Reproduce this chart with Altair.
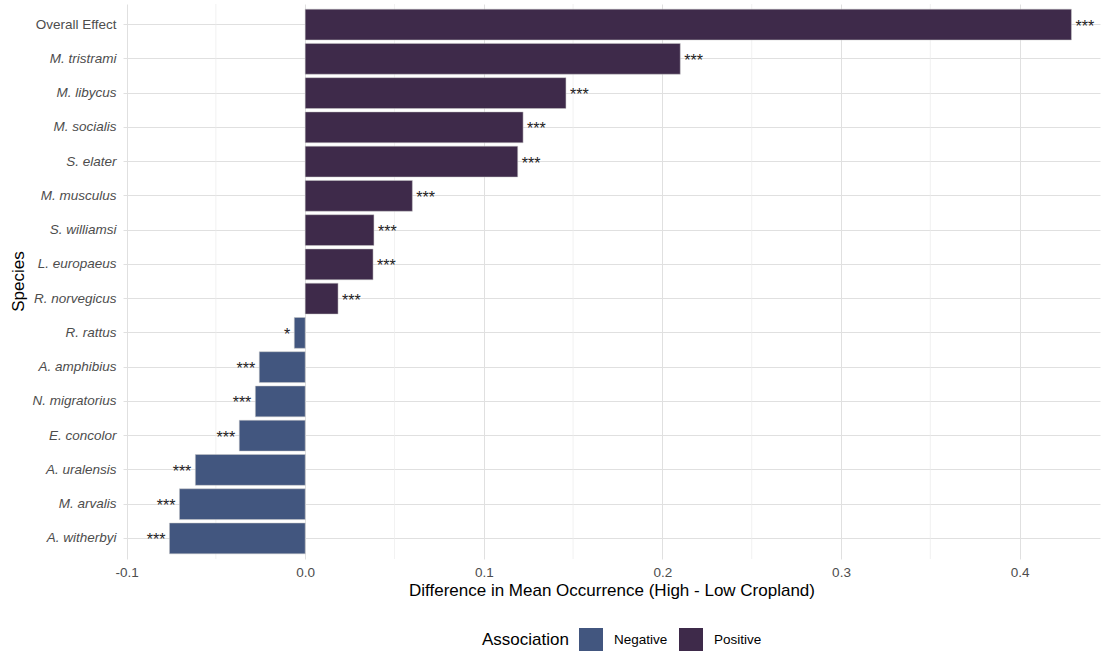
import altair as alt
import pandas as pd

species = ["Overall Effect", "M. tristrami", "M. libycus", "M. socialis", "S. elater",
           "M. musculus", "S. williamsi", "L. europaeus", "R. norvegicus", "R. rattus",
           "A. amphibius", "N. migratorius", "E. concolor", "A. uralensis", "M. arvalis",
           "A. witherbyi"]
diff = [0.429, 0.210, 0.146, 0.122, 0.119, 0.060, 0.0385, 0.038, 0.0184, -0.0061,
        -0.0257, -0.0279, -0.0369, -0.0615, -0.0704, -0.076]
sig = ["***", "***", "***", "***", "***", "***", "***", "***", "***", "*",
       "***", "***", "***", "***", "***", "***"]
major_ticks = [-0.1, 0.0, 0.1, 0.2, 0.3, 0.4]
minor_ticks = [-0.05, 0.05, 0.15, 0.25, 0.35]

df = pd.DataFrame({"Species": species, "diff": diff, "sig": sig})
df["Association"] = ["Positive" if v > 0 else "Negative" for v in diff]
minor_df = pd.DataFrame({"v": minor_ticks})

FONT = "Liberation Sans"
LBL = 13.5
TTL = 17
STAR = 16
xscale = alt.Scale(domain=[-0.102, 0.445], nice=False, zero=False)
yscale = alt.Scale(domain=species, paddingInner=0.1, paddingOuter=0.15)

minor = alt.Chart(minor_df).mark_rule(color="#ebebeb", strokeWidth=0.7).encode(
    x=alt.X("v:Q", scale=xscale)
)

bars = alt.Chart(df).mark_bar(stroke="#c8c8c8", strokeWidth=0.5).encode(
    x=alt.X("diff:Q", scale=xscale,
            axis=alt.Axis(values=major_ticks, grid=True, gridColor="#e0e0e0", gridWidth=1,
                          ticks=False, domain=False, labelFont=FONT, labelFontSize=LBL,
                          labelColor="#4d4d4d", labelPadding=6,
                          labelExpr="datum.value < 0 ? '-' + format(-datum.value, '.1f') : format(datum.value, '.1f')",
                          title="Difference in Mean Occurrence (High - Low Cropland)",
                          titleFont=FONT, titleFontSize=TTL, titleFontWeight="normal",
                          titleColor="black", titlePadding=4)),
    y=alt.Y("Species:N", scale=yscale, sort=species,
            axis=alt.Axis(grid=True, gridColor="#e0e0e0", gridWidth=1, bandPosition=0.5,
                          ticks=False, domain=False, labelFont=FONT, labelFontSize=LBL,
                          labelColor="#4d4d4d", labelPadding=7,
                          labelFontStyle={"condition": {"test": "datum.value == 'Overall Effect'", "value": "normal"}, "value": "italic"},
                          title="Species", titleFont=FONT, titleFontSize=TTL,
                          titleFontWeight="normal", titleColor="black",
                          titleX=-105, titleY=277, titleAlign="center", titleBaseline="middle")),
    color=alt.Color("Association:N",
                    scale=alt.Scale(domain=["Negative", "Positive"], range=["#42567f", "#3e2a4a"]),
                    legend=alt.Legend(orient="none", direction="horizontal", legendX=359, legendY=624,
                                      titleOrient="left", titleFont=FONT, titleFontSize=TTL,
                                      titleFontWeight="normal", titleColor="black", titlePadding=10,
                                      titleBaseline="middle",
                                      labelFont=FONT, labelFontSize=LBL, labelColor="black",
                                      labelOffset=11, columnPadding=11,
                                      symbolType="square", symbolSize=576, symbolStrokeWidth=0,
                                      symbolOpacity=1)),
)

pos_text = alt.Chart(df).transform_filter("datum.diff > 0").mark_text(
    align="left", baseline="middle", dx=4, dy=2, fontSize=STAR, font=FONT, color="#222222"
).encode(x=alt.X("diff:Q", scale=xscale), y=alt.Y("Species:N", scale=yscale, sort=species), text="sig:N")

neg_text = alt.Chart(df).transform_filter("datum.diff < 0").mark_text(
    align="right", baseline="middle", dx=-4, dy=2, fontSize=STAR, font=FONT, color="#222222"
).encode(x=alt.X("diff:Q", scale=xscale), y=alt.Y("Species:N", scale=yscale, sort=species), text="sig:N")

chart = alt.layer(minor, bars, pos_text, neg_text).properties(
    width=977, height=555,
    autosize=alt.AutoSizeParams(type="none"),
    padding={"left": 123, "top": 4, "right": 6, "bottom": 92},
    background="white",
).configure_view(stroke=None)

chart.save("out.html", embed_options={"renderer": "svg", "actions": False})
